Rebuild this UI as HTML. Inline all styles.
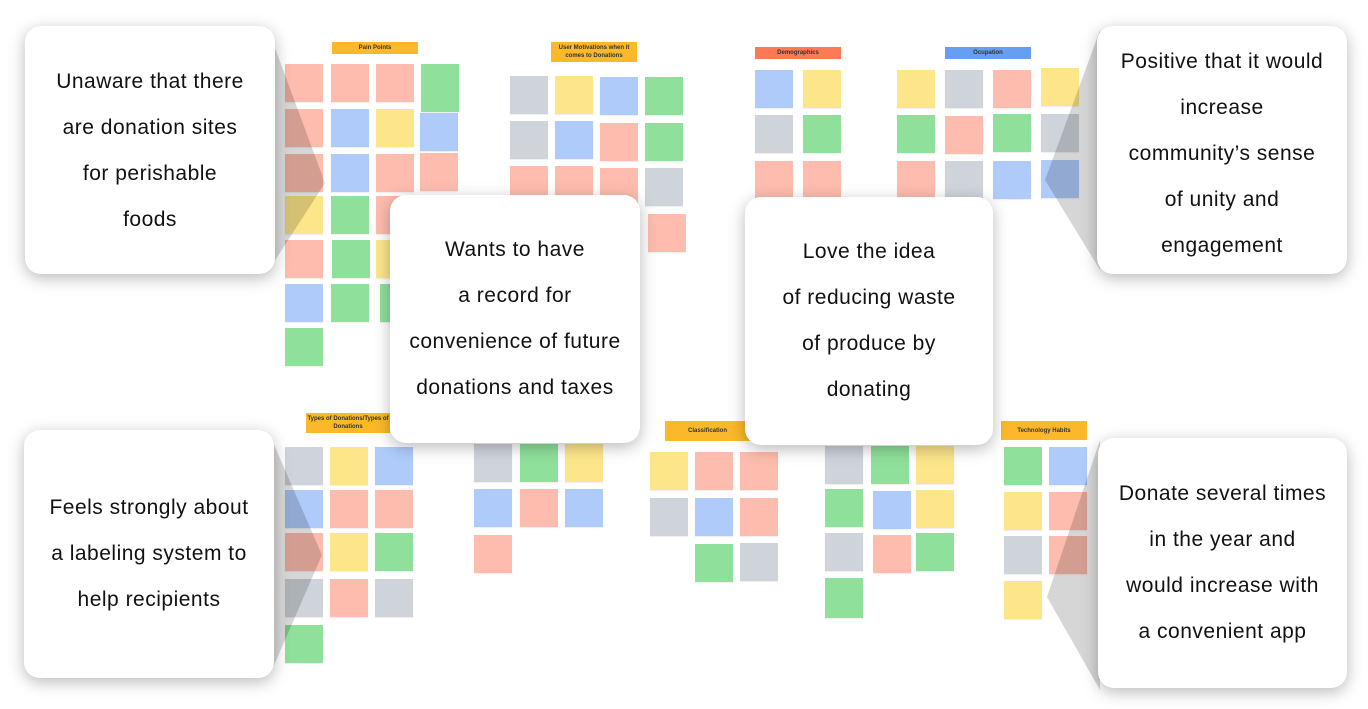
<!DOCTYPE html>
<html><head><meta charset="utf-8"><style>
body{margin:0;width:1368px;height:709px;background:#fff;position:relative;overflow:hidden;font-family:"Liberation Sans",sans-serif}
.s{position:absolute;width:38px;height:38px;box-shadow:0 1px 1px rgba(0,0,0,.08)}
.r{background:#fdbcad}.y{background:#fde68a}.b{background:#aecbfa}.g{background:#8fe09a}.k{background:#cfd4db}
.h{position:absolute;background:#fbb82b;font-size:6px;font-weight:bold;color:#333;text-align:center;display:flex;align-items:center;justify-content:center;line-height:8px}
.c{position:absolute;background:#fff;border-radius:16px;box-shadow:0 4px 16px rgba(0,0,0,.28);display:flex;flex-direction:column;align-items:center;justify-content:center;font-size:21px;letter-spacing:0.5px;color:#111;line-height:46px;text-align:center;box-sizing:border-box}
svg{position:absolute;left:0;top:0}
</style></head><body>
<div class="h" style="left:332px;top:42px;width:86px;height:12px">Pain Points</div>
<div class="h" style="left:551px;top:42px;width:86px;height:20px">User Motivations when it comes to Donations</div>
<div class="h" style="left:755px;top:47px;width:86px;height:12px;background:#fe7a55">Demographics</div>
<div class="h" style="left:945px;top:47px;width:86px;height:12px;background:#669ef2">Ocupation</div>
<div class="h" style="left:306px;top:413px;width:84px;height:20px">Types of Donations/Types of Donations</div>
<div class="h" style="left:665px;top:421px;width:85px;height:20px">Classification</div>
<div class="h" style="left:1001px;top:421px;width:86px;height:19px">Technology Habits</div>

<div class="s r" style="left:285px;top:64px"></div><div class="s r" style="left:285px;top:109px"></div><div class="s r" style="left:285px;top:154px"></div><div class="s y" style="left:285px;top:196px"></div><div class="s r" style="left:285px;top:240px"></div><div class="s b" style="left:285px;top:284px"></div><div class="s g" style="left:285px;top:328px"></div>
<div class="s r" style="left:331px;top:64px"></div><div class="s b" style="left:331px;top:109px"></div><div class="s b" style="left:331px;top:154px"></div><div class="s g" style="left:331px;top:196px"></div><div class="s g" style="left:332px;top:240px"></div><div class="s g" style="left:331px;top:284px"></div>
<div class="s r" style="left:376px;top:64px"></div><div class="s y" style="left:376px;top:109px"></div><div class="s r" style="left:376px;top:154px"></div><div class="s r" style="left:376px;top:196px"></div><div class="s y" style="left:376px;top:240px"></div><div class="s g" style="left:380px;top:284px"></div>
<div class="s g" style="left:421px;top:64px;height:48px"></div><div class="s b" style="left:420px;top:113px"></div><div class="s r" style="left:420px;top:153px"></div>
<div class="s k" style="left:510px;top:76px"></div><div class="s k" style="left:510px;top:121px"></div><div class="s r" style="left:510px;top:166px"></div>
<div class="s y" style="left:555px;top:76px"></div><div class="s b" style="left:555px;top:121px"></div><div class="s r" style="left:555px;top:166px"></div>
<div class="s b" style="left:600px;top:77px"></div><div class="s r" style="left:600px;top:123px"></div><div class="s r" style="left:600px;top:168px"></div>
<div class="s g" style="left:645px;top:77px"></div><div class="s g" style="left:645px;top:123px"></div><div class="s k" style="left:645px;top:168px"></div><div class="s r" style="left:648px;top:214px"></div>
<div class="s b" style="left:755px;top:70px"></div><div class="s k" style="left:755px;top:115px"></div><div class="s r" style="left:755px;top:161px"></div>
<div class="s y" style="left:803px;top:70px"></div><div class="s g" style="left:803px;top:115px"></div><div class="s r" style="left:803px;top:161px"></div>
<div class="s y" style="left:897px;top:70px"></div><div class="s g" style="left:897px;top:115px"></div><div class="s r" style="left:897px;top:161px"></div>
<div class="s k" style="left:945px;top:70px"></div><div class="s r" style="left:945px;top:116px"></div><div class="s k" style="left:945px;top:161px"></div>
<div class="s r" style="left:993px;top:70px"></div><div class="s g" style="left:993px;top:114px"></div><div class="s b" style="left:993px;top:161px"></div>
<div class="s y" style="left:1041px;top:68px"></div><div class="s k" style="left:1041px;top:114px"></div><div class="s b" style="left:1041px;top:160px"></div>
<div class="s k" style="left:285px;top:447px"></div><div class="s b" style="left:285px;top:490px"></div><div class="s r" style="left:285px;top:533px"></div><div class="s k" style="left:285px;top:579px"></div><div class="s g" style="left:285px;top:625px"></div>
<div class="s y" style="left:330px;top:447px"></div><div class="s r" style="left:330px;top:490px"></div><div class="s y" style="left:330px;top:533px"></div><div class="s r" style="left:330px;top:579px"></div>
<div class="s b" style="left:375px;top:447px"></div><div class="s r" style="left:375px;top:490px"></div><div class="s g" style="left:375px;top:533px"></div><div class="s k" style="left:375px;top:579px"></div>
<div class="s k" style="left:474px;top:444px"></div><div class="s b" style="left:474px;top:489px"></div><div class="s r" style="left:474px;top:535px"></div>
<div class="s g" style="left:520px;top:444px"></div><div class="s r" style="left:520px;top:489px"></div>
<div class="s y" style="left:565px;top:444px"></div><div class="s b" style="left:565px;top:489px"></div>
<div class="s y" style="left:650px;top:452px"></div><div class="s k" style="left:650px;top:498px"></div>
<div class="s r" style="left:695px;top:452px"></div><div class="s b" style="left:695px;top:498px"></div><div class="s g" style="left:695px;top:544px"></div>
<div class="s r" style="left:740px;top:452px"></div><div class="s r" style="left:740px;top:498px"></div><div class="s k" style="left:740px;top:543px"></div>
<div class="s k" style="left:825px;top:446px"></div><div class="s g" style="left:825px;top:489px"></div><div class="s k" style="left:825px;top:533px"></div><div class="s g" style="left:825px;top:578px;height:40px"></div>
<div class="s g" style="left:871px;top:446px"></div><div class="s b" style="left:873px;top:491px"></div><div class="s r" style="left:873px;top:535px"></div>
<div class="s y" style="left:916px;top:446px"></div><div class="s y" style="left:916px;top:490px"></div><div class="s g" style="left:916px;top:533px"></div>
<div class="s g" style="left:1004px;top:447px"></div><div class="s y" style="left:1004px;top:492px"></div><div class="s k" style="left:1004px;top:536px"></div><div class="s y" style="left:1004px;top:581px"></div>
<div class="s b" style="left:1049px;top:447px"></div><div class="s r" style="left:1049px;top:492px"></div><div class="s r" style="left:1049px;top:536px"></div>

<svg width="1368" height="709">
<polygon points="272,40 325,183 272,265" fill="rgba(0,0,0,0.16)"/>
<polygon points="1100,30 1045,180 1100,270" fill="rgba(0,0,0,0.16)"/>
<polygon points="272,440 322,555 272,670" fill="rgba(0,0,0,0.16)"/>
<polygon points="1100,440 1047,597 1100,690" fill="rgba(0,0,0,0.16)"/>
</svg>

<div class="c" style="left:25px;top:26px;width:250px;height:248px;padding-top:2px"><div>Unaware that there</div><div>are donation sites</div><div>for perishable</div><div>foods</div></div>
<div class="c" style="left:390px;top:195px;width:250px;height:248px"><div>Wants to have</div><div>a record for</div><div>convenience of future</div><div>donations and taxes</div></div>
<div class="c" style="left:745px;top:197px;width:248px;height:248px"><div>Love the idea</div><div>of reducing waste</div><div>of produce by</div><div>donating</div></div>
<div class="c" style="left:1097px;top:26px;width:250px;height:248px;padding-top:8px"><div>Positive that it would</div><div>increase</div><div>community’s sense</div><div>of unity and</div><div>engagement</div></div>
<div class="c" style="left:24px;top:430px;width:250px;height:248px"><div>Feels strongly about</div><div>a labeling system to</div><div>help recipients</div></div>
<div class="c" style="left:1098px;top:438px;width:249px;height:250px"><div>Donate several times</div><div>in the year and</div><div>would increase with</div><div>a convenient app</div></div>
</body></html>
